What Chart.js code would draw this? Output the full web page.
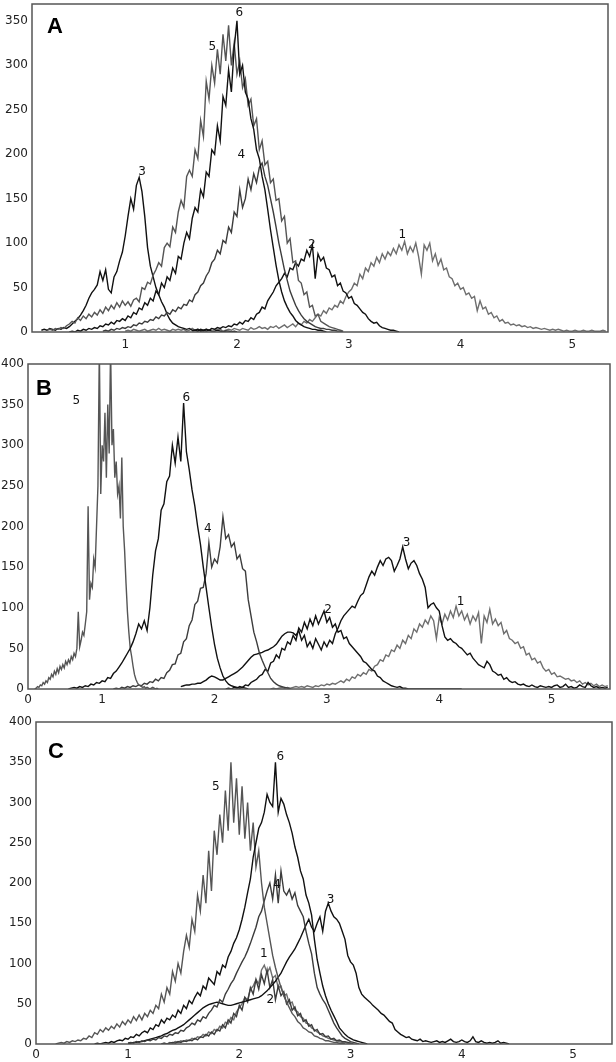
<!DOCTYPE html>
<html>
<head>
<meta charset="utf-8">
<script src="https://cdn.jsdelivr.net/npm/chart.js@4.4.1/dist/chart.umd.min.js"></script>
<style>
    html, body { margin: 0; padding: 0; background: #fff; }
    .panel { position: absolute; left: 0; width: 616px; }
</style>
</head>
<body>
<div class="panel" style="top:0;height:352px"><canvas id="chartA"></canvas></div>
<div class="panel" style="top:350px;height:355px"><canvas id="chartB"></canvas></div>
<div class="panel" style="top:705px;height:357px"><canvas id="chartC"></canvas></div>
<script>
// bin width of all histograms
const STEP = 0.025;

// ---- Panel A: counts per bin, first bin given by the *Start value
const a1Start = 1.0;
const a1 = [1,2,1,3,2,1,2,3,1,2, 3,2,4,2,3,2,1,3,2,3,
    2,3,1,2,4,2,3,2,1,3, 2,4,3,2,3,1,2,3,2,4,
    3,2,4,3,2,5,3,4,6,4, 5,3,6,5,7,4,6,8,5,7,
    9,6,10,8,12,10,14,12,16,20, 18,24,21,27,25,30,28,35,32,40,
    45,48,55,52,65,60,72,68,78,74, 84,78,88,82,90,86,94,88,98,92,
    102,88,96,90,100,85,65,98,92,100, 80,88,75,82,70,72,62,60,52,55,
    48,50,42,44,38,40,24,35,26,28, 20,22,16,18,12,14,10,11,8,9,
    7,8,6,7,5,6,4,5,4,3, 4,3,2,3,2,3,2,1,2,1,
    1,2,1,1,2,1,1,2,1,1, 1,2,1];
const a2Start = 1.6;
const a2 = [1,2,1,3,2,3,2,4,3,5, 4,6,5,7,6,9,8,11,9,13,
    12,16,14,20,22,28,26,35,40,45, 52,56,60,66,62,72,70,78,74,82,
    80,92,85,98,60,88,80,84,72,70, 62,64,52,55,46,44,38,40,32,30,
    26,22,20,15,12,10,11,7,5,4, 3,2,2,1,0];
const a3Start = 0.25;
const a3 = [2,3,2,4,3,2,4,3,5,4, 6,9,12,15,19,24,30,38,44,48,
    53,68,58,70,48,44,62,68,80,90, 108,130,150,138,165,174,158,130,95,74,
    62,50,42,34,28,20,14,10,8,6, 5,4,3,4,2,2,3,1,2,1,
    2,1,1,2,1,0,1,1,0,1, 0];
const a4Start = 0.8;
const a4 = [1,2,1,3,2,4,3,5,4,6, 5,8,7,10,9,12,11,14,13,17,
    15,19,18,22,20,25,23,28,26,31, 30,36,34,42,45,52,55,63,68,78,
    82,92,88,103,100,118,112,135,130,160, 140,150,172,160,178,168,185,190,175,165,
    150,135,118,100,85,70,58,46,38,30, 24,19,15,12,10,8,6,5,4,4,
    3,3,2,2,1,1,0];
const a5Start = 0.3;
const a5 = [2,3,2,4,3,5,4,7,9,12, 10,16,13,18,15,20,17,22,19,25,
    21,28,24,30,26,33,28,35,30,34, 29,36,38,34,50,48,56,54,64,70,
    78,74,95,100,96,118,112,135,148,140, 175,182,175,205,195,238,220,282,262,300,
    280,318,290,335,305,345,300,325, 290,305,275,285,255,262,232,240,205,215,
    188,192,168,172,148,150,125,130,100,105, 78,80,58,55,42,45,28,30,18,20,
    12,10,8,6,5,4,3,2,1];
const a6Start = 0.5;
const a6 = [0,1,0,2,1,3,2,4,3,5, 4,7,6,9,8,11,9,13,12,15,
    13,18,16,22,20,27,25,33,30,38, 35,46,42,55,50,62,58,72,66,85,
    82,100,112,105,128,140,135,160,152,180, 175,205,200,232,215,265,255,295,270,320,
    350,290,300,270,262,240,228,205,195,175, 160,138,115,95,75,58,45,35,28,22,
    18,13,10,8,6,5,4,3,3,2, 2,1,0];

// ---- Panel B
const b1Start = 2.5;
const b1 = [0,1,0,1,2,1,2,1,2,3, 2,3,2,4,3,2,4,3,5,4,
    6,5,7,6,8,10,8,12,10,15, 13,18,16,20,18,24,22,28,30,36,
    34,42,40,48,46,54,50,60,56,66, 62,74,70,80,76,85,80,90,84,62,
    88,80,92,85,96,88,102,90,96,85, 92,80,90,84,94,56,90,82,98,80,
    86,78,82,68,72,62,60,56,58,50, 52,42,44,36,38,32,34,26,22,24,
    18,20,15,16,14,12,13,10,11,8, 10,6,8,5,7,4,6,3,5,3, 4];
const b2Start = 2.1;
const b2 = [0,1,0,2,1,3,2,5,4,8, 10,12,16,18,24,22,32,34,42,38,
    50,48,58,55,66,60,75,70,82,74, 86,78,90,80,88,96,82,88,76,80,
    70,72,62,64,56,52,48,44,40,34, 32,28,24,22,16,14,10,8,6,4,
    3,2,3,1,1,0,0,0,0,0, 0,0,0,0,0,0,0,0,0,0, 0,0,0,0,0];
const b3Start = 1.7;
const b3 = [3,4,5,5,6,6,7,7,9,11, 14,16,15,13,11,11,13,15,17,19,
    21,24,27,31,35,39,42,43,44,45, 47,48,50,52,55,60,65,68,70,70,
    69,66,72,60,66,52,58,50,62,55, 48,58,52,60,56,68,75,84,90,94,
    98,102,100,108,115,118,128,138,145,140, 150,158,152,160,162,158,145,152,160,175,
    160,148,155,158,152,142,135,125,100,104, 106,100,96,78,64,60,62,58,56,52,
    50,46,42,44,38,34,30,28,26,34, 30,22,20,17,18,12,14,10,8,9,
    6,5,6,4,3,5,3,2,4,3, 2,3,2,4,5,2,3,6,2,3,
    1,2,5,3,2,8,4,2,3,1, 2,1,2];
const b4Start = 1.1;
const b4 = [0,1,0,2,1,3,2,4,3,5, 4,7,6,9,8,12,10,14,13,20,
    23,30,31,42,44,58,62,78,85,104, 108,124,125,142,180,150,160,155,175,212,
    185,190,175,180,160,165,148,145,110,90, 70,58,44,35,27,20,13,9,6,4,
    3,2,1,0];
// finer bins for the narrow peak 5
const b5Start = 0.4;
const b5Step = 0.0125;
const b5 = [0,1,3,2,5,4,8,6,10,8, 14,12,18,15,22,18,25,20,28,24,
    30,26,34,30,36,32,40,36,44,40, 50,95,52,60,70,66,80,95,225,110,
    130,125,160,150,200,250,420,240,300,280, 340,260,350,290,420,300,320,260,280,240,
    250,210,285,200,170,130,95,70,50,40, 28,18,12,8,5,4,3,2,3,1,
    2,1,0,1,2,1,0,1,0];
const b6Start = 0.7;
const b6 = [0,1,2,1,3,2,4,3,6,5, 8,7,10,9,14,13,19,22,27,32,
    38,44,50,58,68,80,74,84,72,100, 140,170,185,220,228,255,262,300,278,310,
    280,352,292,270,245,225,200,178,150,125, 100,76,55,38,26,16,10,6,4,3,
    2,1,2,1,0];

// ---- Panel C
const c1Start = 1.3;
const c1 = [0,1,0,2,1,3,2,4,3,5, 4,7,6,9,8,12,10,15,13,18,
    16,22,20,27,25,33,30,40,45,50, 58,55,68,72,80,75,92,98,88,95,
    82,85,70,72,60,62,50,52,42,40, 34,32,26,25,20,18,15,13,10,9,
    7,6,5,4,3,2,2,1,1,0];
const c2Start = 1.3;
const c2 = [0,1,0,1,2,1,3,2,4,3, 5,4,7,5,9,8,12,10,15,12,
    18,16,24,20,30,26,38,34,48,42, 58,52,70,62,80,68,86,75,92,70,
    80,55,72,60,65,50,55,42,46,35, 38,28,30,22,24,16,18,12,13,9,
    10,6,7,4,5,3,3,2,1,0];
const c3Start = 1.0;
const c3 = [1,1,2,2,3,3,4,5,6,7, 8,9,10,12,13,15,17,18,20,22,
    24,27,30,33,36,39,42,45,47,49, 50,51,52,51,50,49,48,48,49,50,
    51,52,53,54,55,56,57,58,60,63, 66,70,74,78,83,88,95,102,108,113,
    118,125,132,140,148,155,145,140,150,158, 140,165,175,165,158,155,150,140,130,110,
    102,98,88,70,62,58,55,52,48,45, 42,38,36,32,28,26,18,15,12,10,
    8,9,6,5,4,6,3,4,3,2, 3,4,2,3,2,4,6,3,2,3,
    5,3,2,4,9,3,2,4,2,1, 2,1,2,4,1,2,1,0];
const c4Start = 1.0;
const c4 = [1,2,1,3,2,4,3,5,4,6, 5,8,7,10,9,12,11,14,13,17,
    16,20,22,26,24,30,28,34,32,38, 42,48,46,55,52,62,68,75,80,88,
    95,102,108,116,125,135,145,158,165,178, 190,200,180,210,175,215,190,185,192,180,
    188,172,165,158,140,125,112,88,70,62, 55,50,42,34,26,20,15,10,7,5,
    3,2,1,0];
const c5Start = 0.35;
const c5 = [0,1,2,1,3,2,4,3,5,4, 7,6,10,8,14,12,18,15,20,17,
    22,19,25,21,28,24,30,26,34,29, 36,30,38,34,42,38,48,44,62,52,
    70,62,90,78,100,88,115,135,120,155, 140,185,165,210,175,240,190,265,235,285,
    250,315,265,350,275,330,260,320,255,300, 240,275,220,240,200,170,150,130,110,95,
    82,70,60,52,45,38,34,28,25,20, 18,15,14,10,9,7,6,4,4,3,
    2,2,1,1,0];
const c6Start = 0.7;
const c6 = [0,1,0,1,2,1,3,2,4,5, 4,7,6,9,8,12,10,14,16,14,
    20,18,24,22,30,26,32,30,36,33, 42,38,48,44,54,50,58,64,60,72,
    68,82,78,74,90,86,98,95,108,115, 125,132,142,155,170,188,205,232,250,268,
    275,288,310,300,295,350,288,305,298,285, 275,262,245,232,215,205,185,175,160,130,
    105,88,72,60,50,42,35,28,20,16, 12,9,7,5,4,3,2,1,0];

// curve number labels (data coordinates)
const labelsA = ['1', '2', '3', '4', '5', '6'];
const labelsAX = [3.48, 2.67, 1.15, 2.04, 1.78, 2.02];
const labelsAY = [109, 98, 180, 199, 321, 359];
const labelsB = ['1', '2', '3', '4', '5', '6'];
const labelsBX = [4.19, 3.01, 3.71, 1.94, 0.77, 1.75];
const labelsBY = [107, 97, 180, 197, 355, 358];
const labelsC = ['1', '2', '3', '4', '5', '6'];
const labelsCX = [2.22, 2.28, 2.82, 2.34, 1.79, 2.37];
const labelsCY = [112, 55, 179, 198, 319, 357];

// axis ranges and ticks
const xTicks = [1, 2, 3, 4, 5];
const yTicksA = [0, 50, 100, 150, 200, 250, 300, 350];
const yTicksBC = [0, 50, 100, 150, 200, 250, 300, 350, 400];

const BLACK = '#111';
const GRAY = '#6e6e6e';
const MID = '#555';
const DARK = '#3c3c3c';

function series(start, step, vals) {
    return vals.map((v, i) => ({ x: Math.round((start + i * step) * 10000) / 10000, y: v }));
}

function line(data, color) {
    return {
        data: data,
        borderColor: color,
        borderWidth: 1.4,
        pointRadius: 0,
        tension: 0,
        fill: false
    };
}

const decorPlugin = {
    id: 'decor',
    afterDatasetsDraw(chart, args, opts) {
        const { ctx, chartArea: a, scales } = chart;
        ctx.save();
        ctx.strokeStyle = '#555';
        ctx.lineWidth = 1.5;
        ctx.strokeRect(a.left, a.top, a.right - a.left, a.bottom - a.top);

        ctx.fillStyle = '#000';
        ctx.font = 'bold 22px "Liberation Sans", Arial, sans-serif';
        ctx.textAlign = 'left';
        ctx.textBaseline = 'alphabetic';
        ctx.fillText(opts.letter, a.left + opts.letterDx, a.top + opts.letterDy);

        ctx.font = '12px "DejaVu Sans", sans-serif';
        ctx.fillStyle = '#111';
        ctx.textAlign = 'center';
        ctx.textBaseline = 'middle';
        opts.names.forEach((t, i) => {
            ctx.fillText(t, scales.x.getPixelForValue(opts.xs[i]), scales.y.getPixelForValue(opts.ys[i]));
        });
        ctx.restore();
    }
};

function makePanel(id, p) {
    const tickFont = { family: '"DejaVu Sans", sans-serif', size: 12 };
    const xVals = p.zeroLabel ? [p.xMin].concat(xTicks) : xTicks;
    new Chart(document.getElementById(id), {
        type: 'line',
        data: { datasets: p.datasets },
        plugins: [decorPlugin],
        options: {
            responsive: true,
            maintainAspectRatio: false,
            animation: false,
            events: [],
            layout: { padding: p.padding },
            plugins: {
                legend: { display: false },
                tooltip: { enabled: false },
                decor: { letter: p.letter, letterDx: p.letterDx, letterDy: p.letterDy,
                         names: p.names, xs: p.xs, ys: p.ys }
            },
            scales: {
                x: {
                    type: 'linear',
                    min: p.xMin,
                    max: p.xMax,
                    grid: { display: false, drawTicks: false },
                    border: { display: false },
                    afterBuildTicks: s => { s.ticks = xVals.map(v => ({ value: v })); },
                    afterFit: s => { s.height = p.xHeight; s.paddingLeft = 0; s.paddingRight = 0; },
                    ticks: {
                        autoSkip: false,
                        maxRotation: 0,
                        padding: p.xPad,
                        color: '#222',
                        font: tickFont,
                        callback: v => (v === p.xMin ? '0' : String(v))
                    }
                },
                y: {
                    min: 0,
                    max: p.yMax,
                    grid: { display: false, drawTicks: false },
                    border: { display: false },
                    afterBuildTicks: s => { s.ticks = p.yTicks.map(v => ({ value: v })); },
                    afterFit: s => { s.width = p.yWidth; s.paddingTop = 0; s.paddingBottom = 0; },
                    ticks: { padding: 4, color: '#222', font: tickFont }
                }
            }
        }
    });
}

makePanel('chartA', {
    datasets: [
        line(series(a6Start, STEP, a6), BLACK),
        line(series(a5Start, STEP, a5), MID),
        line(series(a4Start, STEP, a4), DARK),
        line(series(a3Start, STEP, a3), BLACK),
        line(series(a2Start, STEP, a2), BLACK),
        line(series(a1Start, STEP, a1), GRAY)
    ],
    xMin: 0.166, xMax: 5.32, yMax: 369, yTicks: yTicksA, zeroLabel: false,
    padding: { left: 0, right: 8, top: 4, bottom: 0 },
    yWidth: 32, xHeight: 20, xPad: 6,
    letter: 'A', letterDx: 15, letterDy: 29,
    names: labelsA, xs: labelsAX, ys: labelsAY
});

makePanel('chartB', {
    datasets: [
        line(series(b6Start, STEP, b6), BLACK),
        line(series(b5Start, b5Step, b5), MID),
        line(series(b4Start, STEP, b4), DARK),
        line(series(b3Start, STEP, b3), BLACK),
        line(series(b2Start, STEP, b2), BLACK),
        line(series(b1Start, STEP, b1), GRAY)
    ],
    xMin: 0.34, xMax: 5.52, yMax: 400, yTicks: yTicksBC, zeroLabel: true,
    padding: { left: 0, right: 6, top: 14, bottom: 0 },
    yWidth: 28, xHeight: 16, xPad: 4,
    letter: 'B', letterDx: 8, letterDy: 31,
    names: labelsB, xs: labelsBX, ys: labelsBY
});

makePanel('chartC', {
    datasets: [
        line(series(c6Start, STEP, c6), BLACK),
        line(series(c5Start, STEP, c5), MID),
        line(series(c4Start, STEP, c4), DARK),
        line(series(c3Start, STEP, c3), BLACK),
        line(series(c2Start, STEP, c2), DARK),
        line(series(c1Start, STEP, c1), GRAY)
    ],
    xMin: 0.173, xMax: 5.35, yMax: 400, yTicks: yTicksBC, zeroLabel: true,
    padding: { left: 0, right: 4, top: 17, bottom: 0 },
    yWidth: 36, xHeight: 18, xPad: 4,
    letter: 'C', letterDx: 12, letterDy: 36,
    names: labelsC, xs: labelsCX, ys: labelsCY
});
</script>
</body>
</html>
